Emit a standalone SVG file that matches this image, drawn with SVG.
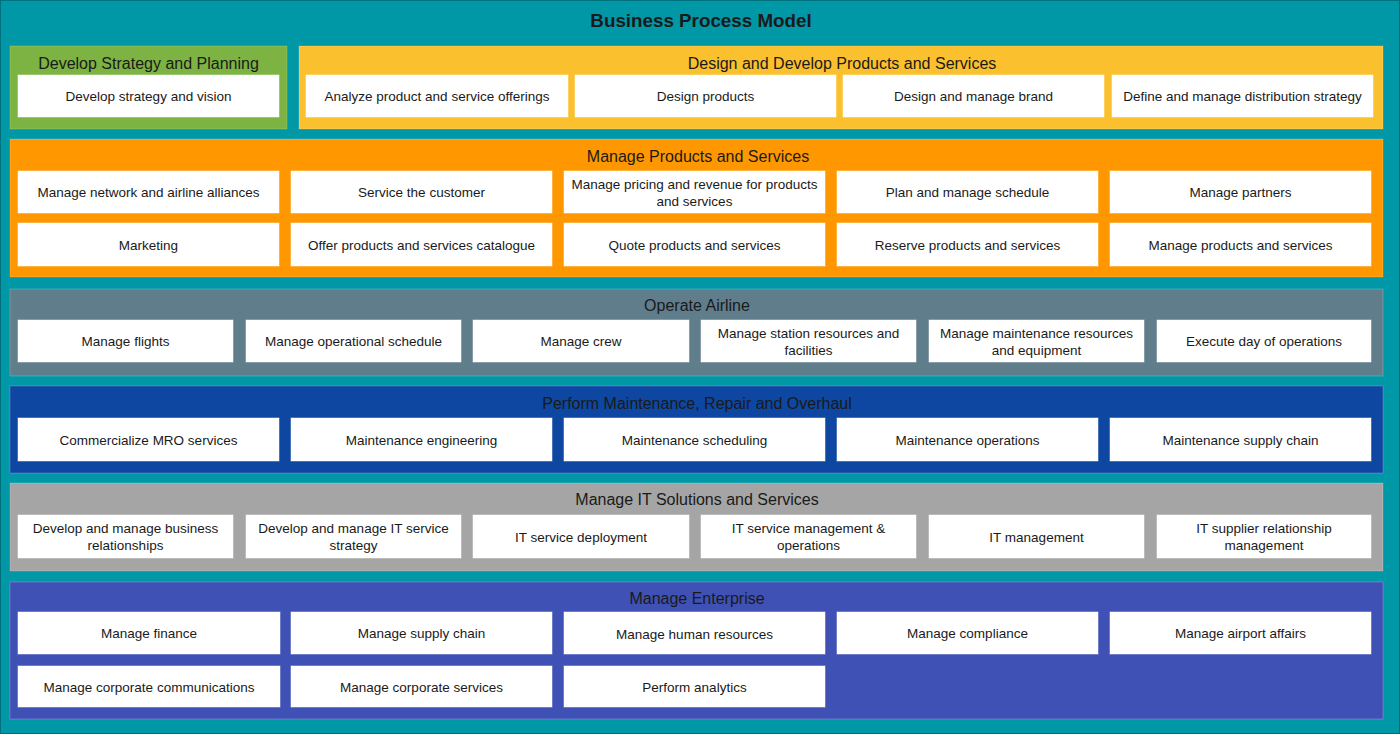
<svg xmlns="http://www.w3.org/2000/svg" width="1400" height="734" viewBox="0 0 1400 734">
<style>
text{font-family:"Liberation Sans",Arial,sans-serif;fill:#1a1a1a;text-anchor:middle}
.title{font-size:18.8px;font-weight:bold}
.h{font-size:16px}
.t{font-size:13.5px}
.box{fill:#fff;stroke:#fff;stroke-opacity:0.5;stroke-width:1}
.panel{stroke:#fff;stroke-opacity:0.2;stroke-width:1}
</style>
<rect x="0.5" y="0.5" width="1399" height="733" fill="#0097A7" stroke="#00707c"/>
<text class="title" x="701" y="27">Business Process Model</text>

<g id="strategy">
<rect class="panel" x="10" y="46" width="277" height="83" fill="#7CB342"/>
<text class="h" x="148.5" y="68.5">Develop Strategy and Planning</text>
<g id="n-strategy-vision"><rect class="box" x="18" y="75" width="261" height="42"/><text class="t" x="148.5" y="101">Develop strategy and vision</text></g>
</g>

<g id="design">
<rect class="panel" x="299" y="46" width="1084" height="83" fill="#FBC02D"/>
<text class="h" x="842" y="68.5">Design and Develop Products and Services</text>
<g id="n-analyze"><rect class="box" x="306" y="75" width="262" height="42"/><text class="t" x="437" y="101">Analyze product and service offerings</text></g>
<g id="n-design-products"><rect class="box" x="575" y="75" width="261" height="42"/><text class="t" x="705.5" y="101">Design products</text></g>
<g id="n-brand"><rect class="box" x="843" y="75" width="261" height="42"/><text class="t" x="973.5" y="101">Design and manage brand</text></g>
<g id="n-distribution"><rect class="box" x="1112" y="75" width="261" height="42"/><text class="t" x="1242.5" y="101">Define and manage distribution strategy</text></g>
</g>

<g id="products">
<rect class="panel" x="10" y="139" width="1373" height="138" fill="#FF9800"/>
<text class="h" x="698" y="161.5">Manage Products and Services</text>
<g id="n-network"><rect class="box" x="18" y="171" width="261" height="42"/><text class="t" x="148.5" y="197">Manage network and airline alliances</text></g>
<g id="n-service-customer"><rect class="box" x="291" y="171" width="261" height="42"/><text class="t" x="421.5" y="197">Service the customer</text></g>
<g id="n-pricing"><rect class="box" x="564" y="171" width="261" height="42"/><text class="t" x="694.5" y="189">Manage pricing and revenue for products</text><text class="t" x="694.5" y="206">and services</text></g>
<g id="n-schedule"><rect class="box" x="837" y="171" width="261" height="42"/><text class="t" x="967.5" y="197">Plan and manage schedule</text></g>
<g id="n-partners"><rect class="box" x="1110" y="171" width="261" height="42"/><text class="t" x="1240.5" y="197">Manage partners</text></g>
<g id="n-marketing"><rect class="box" x="18" y="223" width="261" height="43"/><text class="t" x="148.5" y="250">Marketing</text></g>
<g id="n-catalogue"><rect class="box" x="291" y="223" width="261" height="43"/><text class="t" x="421.5" y="250">Offer products and services catalogue</text></g>
<g id="n-quote"><rect class="box" x="564" y="223" width="261" height="43"/><text class="t" x="694.5" y="250">Quote products and services</text></g>
<g id="n-reserve"><rect class="box" x="837" y="223" width="261" height="43"/><text class="t" x="967.5" y="250">Reserve products and services</text></g>
<g id="n-manage-products"><rect class="box" x="1110" y="223" width="261" height="43"/><text class="t" x="1240.5" y="250">Manage products and services</text></g>
</g>

<g id="operate">
<rect class="panel" x="10" y="289" width="1373" height="87" fill="#607D8B"/>
<text class="h" x="697" y="311">Operate Airline</text>
<g id="n-flights"><rect class="box" x="18" y="320" width="215" height="42"/><text class="t" x="125.5" y="346">Manage flights</text></g>
<g id="n-op-schedule"><rect class="box" x="246" y="320" width="215" height="42"/><text class="t" x="353.5" y="346">Manage operational schedule</text></g>
<g id="n-crew"><rect class="box" x="473" y="320" width="216" height="42"/><text class="t" x="581" y="346">Manage crew</text></g>
<g id="n-station"><rect class="box" x="701" y="320" width="215" height="42"/><text class="t" x="808.5" y="338">Manage station resources and</text><text class="t" x="808.5" y="355">facilities</text></g>
<g id="n-maint-res"><rect class="box" x="929" y="320" width="215" height="42"/><text class="t" x="1036.5" y="338">Manage maintenance resources</text><text class="t" x="1036.5" y="355">and equipment</text></g>
<g id="n-day-ops"><rect class="box" x="1157" y="320" width="214" height="42"/><text class="t" x="1264" y="346">Execute day of operations</text></g>
</g>

<g id="mro">
<rect class="panel" x="10" y="386" width="1373" height="87" fill="#0D47A1"/>
<text class="h" x="697" y="408.5">Perform Maintenance, Repair and Overhaul</text>
<g id="n-mro-commercial"><rect class="box" x="18" y="418" width="261" height="43"/><text class="t" x="148.5" y="445">Commercialize MRO services</text></g>
<g id="n-maint-eng"><rect class="box" x="291" y="418" width="261" height="43"/><text class="t" x="421.5" y="445">Maintenance engineering</text></g>
<g id="n-maint-sched"><rect class="box" x="564" y="418" width="261" height="43"/><text class="t" x="694.5" y="445">Maintenance scheduling</text></g>
<g id="n-maint-ops"><rect class="box" x="837" y="418" width="261" height="43"/><text class="t" x="967.5" y="445">Maintenance operations</text></g>
<g id="n-maint-supply"><rect class="box" x="1110" y="418" width="261" height="43"/><text class="t" x="1240.5" y="445">Maintenance supply chain</text></g>
</g>

<g id="it">
<rect class="panel" x="10" y="483" width="1373" height="88" fill="#A5A5A5"/>
<text class="h" x="697" y="505">Manage IT Solutions and Services</text>
<g id="n-business-rel"><rect class="box" x="18" y="515" width="215" height="43"/><text class="t" x="125.5" y="533">Develop and manage business</text><text class="t" x="125.5" y="550">relationships</text></g>
<g id="n-it-strategy"><rect class="box" x="246" y="515" width="215" height="43"/><text class="t" x="353.5" y="533">Develop and manage IT service</text><text class="t" x="353.5" y="550">strategy</text></g>
<g id="n-it-deploy"><rect class="box" x="473" y="515" width="216" height="43"/><text class="t" x="581" y="542">IT service deployment</text></g>
<g id="n-it-svc-mgmt"><rect class="box" x="701" y="515" width="215" height="43"/><text class="t" x="808.5" y="533">IT service management &amp;</text><text class="t" x="808.5" y="550">operations</text></g>
<g id="n-it-mgmt"><rect class="box" x="929" y="515" width="215" height="43"/><text class="t" x="1036.5" y="542">IT management</text></g>
<g id="n-it-supplier"><rect class="box" x="1157" y="515" width="214" height="43"/><text class="t" x="1264" y="533">IT supplier relationship</text><text class="t" x="1264" y="550">management</text></g>
</g>

<g id="enterprise">
<rect class="panel" x="10" y="582" width="1373" height="137" fill="#3F51B5"/>
<text class="h" x="697" y="604">Manage Enterprise</text>
<g id="n-finance"><rect class="box" x="18" y="612" width="262" height="42"/><text class="t" x="149" y="638">Manage finance</text></g>
<g id="n-supply"><rect class="box" x="291" y="612" width="261" height="42"/><text class="t" x="421.5" y="638">Manage supply chain</text></g>
<g id="n-hr"><rect class="box" x="564" y="612" width="261" height="42"/><text class="t" x="694.5" y="639">Manage human resources</text></g>
<g id="n-compliance"><rect class="box" x="837" y="612" width="261" height="42"/><text class="t" x="967.5" y="638">Manage compliance</text></g>
<g id="n-airport"><rect class="box" x="1110" y="612" width="261" height="42"/><text class="t" x="1240.5" y="638">Manage airport affairs</text></g>
<g id="n-comms"><rect class="box" x="18" y="666" width="262" height="41"/><text class="t" x="149" y="692">Manage corporate communications</text></g>
<g id="n-corp-services"><rect class="box" x="291" y="666" width="261" height="41"/><text class="t" x="421.5" y="692">Manage corporate services</text></g>
<g id="n-analytics"><rect class="box" x="564" y="666" width="261" height="41"/><text class="t" x="694.5" y="692">Perform analytics</text></g>
</g>

<g id="connectors"></g>
</svg>
